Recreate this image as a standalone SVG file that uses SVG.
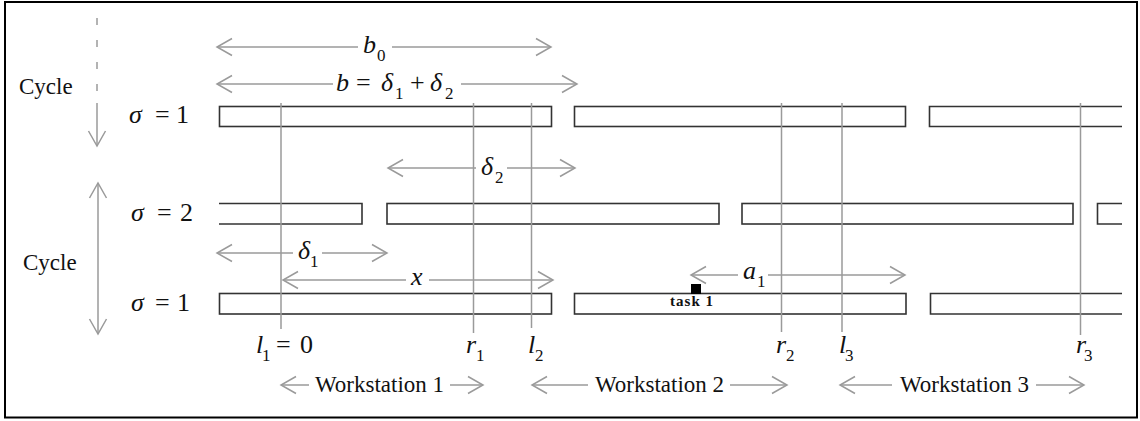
<svg xmlns="http://www.w3.org/2000/svg" width="1140" height="421" viewBox="0 0 1140 421">
<style>
.bar{fill:#fff;stroke:#333;stroke-width:1.6}
.open{fill:none;stroke:#333;stroke-width:1.6}
.vl{stroke:#9a9a9a;stroke-width:1.5;fill:none}
.ar{stroke:#9a9a9a;stroke-width:1.5;fill:none;marker-end:url(#ah)}
.ar2{stroke:#9a9a9a;stroke-width:1.5;fill:none;marker-start:url(#ah);marker-end:url(#ah)}
text{font-family:'Liberation Serif','DejaVu Serif',serif;fill:#111}
.t{font-size:23px}
.m{font-size:26px}
.i{font-style:italic}
.s{font-size:17px}
.task{font-size:15px;font-weight:bold}
</style>
<defs>
<marker id="ah" markerUnits="userSpaceOnUse" viewBox="-17 -11 19 22" markerWidth="19" markerHeight="22" refX="0" refY="0" orient="auto-start-reverse">
<path d="M-15,-8.5 L0,0 L-15,8.5" fill="none" stroke="#9a9a9a" stroke-width="1.5"/>
</marker>
</defs>
<rect x="5" y="2" width="1132" height="415.5" fill="#fff" stroke="#000" stroke-width="2"/>

<g id="row1">
<rect class="bar" x="219.5" y="106.5" width="332" height="20"/>
<rect class="bar" x="574.5" y="106.5" width="331" height="20"/>
<path class="open" d="M1122,106.5 H929.5 V126.5 H1122"/>
</g>
<g id="row2">
<path class="open" d="M219,203.5 H362 V224 H219"/>
<rect class="bar" x="387" y="203.5" width="332" height="20.5"/>
<rect class="bar" x="742" y="203.5" width="331" height="20.5"/>
<path class="open" d="M1122,203.5 H1097.5 V224 H1122"/>
</g>
<g id="row3">
<rect class="bar" x="219.5" y="293.5" width="332" height="20.5"/>
<rect class="bar" x="574.5" y="293.5" width="331.5" height="20.5"/>
<path class="open" d="M1122,293.5 H930.5 V314 H1122"/>
<rect id="task1" x="691" y="284" width="10" height="10" fill="#000"/>
<text class="task" x="670" y="306" font-family="Liberation Serif, DejaVu Serif, serif" textLength="43">task 1</text>
</g>

<g id="connectors">
<line class="vl" x1="281" y1="103" x2="281" y2="329"/>
<line class="vl" x1="473.5" y1="103" x2="473.5" y2="333"/>
<line class="vl" x1="531.5" y1="103" x2="531.5" y2="328"/>
<line class="vl" x1="781.5" y1="103" x2="781.5" y2="332"/>
<line class="vl" x1="842" y1="103" x2="842" y2="332"/>
<line class="vl" x1="1080.5" y1="103" x2="1080.5" y2="335"/>

<line class="vl" x1="97" y1="18" x2="97" y2="92" stroke-dasharray="7 15"/>
<line class="ar" x1="97" y1="103" x2="97" y2="146"/>
<line class="ar2" x1="98" y1="183" x2="98" y2="334"/>

<line class="ar" x1="358" y1="47" x2="217" y2="47"/>
<line class="ar" x1="392" y1="47" x2="551" y2="47"/>
<line class="ar" x1="333" y1="84" x2="217" y2="84"/>
<line class="ar" x1="461" y1="84" x2="577" y2="84"/>
<line class="ar" x1="476" y1="168" x2="388" y2="168"/>
<line class="ar" x1="507" y1="168" x2="575" y2="168"/>
<line class="ar" x1="293" y1="253" x2="217" y2="253"/>
<line class="ar" x1="322" y1="253" x2="387" y2="253"/>
<line class="ar" x1="406" y1="280" x2="283" y2="280"/>
<line class="ar" x1="429" y1="280" x2="553" y2="280"/>
<line class="ar" x1="738" y1="275" x2="691" y2="275"/>
<line class="ar" x1="768" y1="275" x2="905" y2="275"/>

<line class="ar" x1="309" y1="385" x2="281" y2="385"/>
<line class="ar" x1="450" y1="385" x2="483" y2="385"/>
<line class="ar" x1="588" y1="385" x2="532" y2="385"/>
<line class="ar" x1="730" y1="385" x2="787" y2="385"/>
<line class="ar" x1="892" y1="385" x2="840" y2="385"/>
<line class="ar" x1="1036" y1="385" x2="1084" y2="385"/>
</g>

<g id="labels" font-family="Liberation Serif, DejaVu Serif, serif">
<text class="t" x="19" y="94">Cycle</text>
<text class="t" x="23" y="270">Cycle</text>

<text class="m"><tspan class="i" x="129" y="123">σ</tspan><tspan x="155">=</tspan><tspan x="176">1</tspan></text>
<text class="m"><tspan class="i" x="131" y="221">σ</tspan><tspan x="157">=</tspan><tspan x="180">2</tspan></text>
<text class="m"><tspan class="i" x="131" y="311">σ</tspan><tspan x="155">=</tspan><tspan x="177">1</tspan></text>

<text class="m"><tspan class="i" x="363" y="53">b</tspan><tspan class="s" x="377" y="61">0</tspan></text>
<text class="m"><tspan class="i" x="336" y="91">b</tspan><tspan x="356">=</tspan><tspan class="i" x="381">δ</tspan><tspan class="s" x="395" y="99">1</tspan><tspan x="410" y="91">+</tspan><tspan class="i" x="430">δ</tspan><tspan class="s" x="445" y="99">2</tspan></text>
<text class="m"><tspan class="i" x="481" y="175">δ</tspan><tspan class="s" x="495" y="183">2</tspan></text>
<text class="m"><tspan class="i" x="298" y="259">δ</tspan><tspan class="s" x="310" y="267">1</tspan></text>
<text class="m"><tspan class="i" x="411" y="285">x</tspan></text>
<text class="m"><tspan class="i" x="743" y="279">a</tspan><tspan class="s" x="757" y="287">1</tspan></text>

<text class="m"><tspan class="i" x="256" y="353">l</tspan><tspan class="s" x="262" y="361">1</tspan><tspan x="276" y="353">=</tspan><tspan x="300">0</tspan></text>
<text class="m"><tspan class="i" x="466" y="353">r</tspan><tspan class="s" x="476" y="361">1</tspan></text>
<text class="m"><tspan class="i" x="528" y="353">l</tspan><tspan class="s" x="535" y="361">2</tspan></text>
<text class="m"><tspan class="i" x="776" y="353">r</tspan><tspan class="s" x="786" y="361">2</tspan></text>
<text class="m"><tspan class="i" x="839" y="353">l</tspan><tspan class="s" x="845" y="361">3</tspan></text>
<text class="m"><tspan class="i" x="1076" y="353">r</tspan><tspan class="s" x="1084" y="361">3</tspan></text>

<text class="t" x="315" y="392">Workstation 1</text>
<text class="t" x="595" y="392">Workstation 2</text>
<text class="t" x="900" y="392">Workstation 3</text>
</g>
</svg>
